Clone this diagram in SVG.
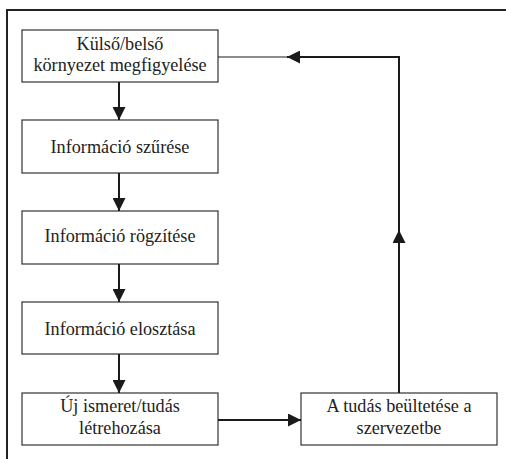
<svg xmlns="http://www.w3.org/2000/svg" width="506" height="459" viewBox="0 0 506 459">
<style>
.box{fill:#fff;stroke:#333;stroke-width:1.2}
.t{font-family:'Liberation Serif', 'Times New Roman', Times, serif;font-size:18.2px;fill:#222;text-anchor:middle}
.c{fill:none;stroke:#1a1a1a;stroke-width:2}
.thin{fill:none;stroke:#1a1a1a;stroke-width:1.2}
</style>
<defs>
<marker id="ah" markerUnits="userSpaceOnUse" markerWidth="13" markerHeight="13" viewBox="0 0 12 12" refX="12" refY="6" orient="auto">
<path d="M0,0 L12,6 L0,12 Z" fill="#1a1a1a"/>
</marker>
</defs>
<rect x="0" y="0" width="506" height="459" fill="#fff"/>
<path d="M7,459 V10 H506" fill="none" stroke="#222" stroke-width="2"/>
<g id="n1"><rect class="box" x="22" y="30" width="196" height="52"/><text class="t" x="120" y="50">Külső/belső</text><text class="t" x="120" y="71">környezet megfigyelése</text></g>
<g id="n2"><rect class="box" x="22" y="120" width="196" height="53"/><text class="t" x="120" y="153">Információ szűrése</text></g>
<g id="n3"><rect class="box" x="22" y="211" width="196" height="53"/><text class="t" x="120" y="242">Információ rögzítése</text></g>
<g id="n4"><rect class="box" x="22" y="302" width="196" height="52"/><text class="t" x="120" y="335">Információ elosztása</text></g>
<g id="n5"><rect class="box" x="22" y="393" width="196" height="52"/><text class="t" x="120" y="412">Új ismeret/tudás</text><text class="t" x="120" y="434">létrehozása</text></g>
<g id="n6"><rect class="box" x="301" y="393" width="196" height="52"/><text class="t" x="399" y="412">A tudás beültetése a</text><text class="t" x="399" y="434">szervezetbe</text></g>
<g id="connectors">
<path class="c" d="M119,82 V120" marker-end="url(#ah)"/>
<path class="c" d="M119,173 V211" marker-end="url(#ah)"/>
<path class="c" d="M119,264 V302" marker-end="url(#ah)"/>
<path class="c" d="M119,354 V393" marker-end="url(#ah)"/>
<path class="c" d="M218,420 H301" marker-end="url(#ah)"/>
<path class="c" d="M399,393 V230" marker-end="url(#ah)"/>
<path class="c" d="M399,236 V57 H287" marker-end="url(#ah)"/>
<path class="thin" d="M290,57 H218"/>
</g>
</svg>
